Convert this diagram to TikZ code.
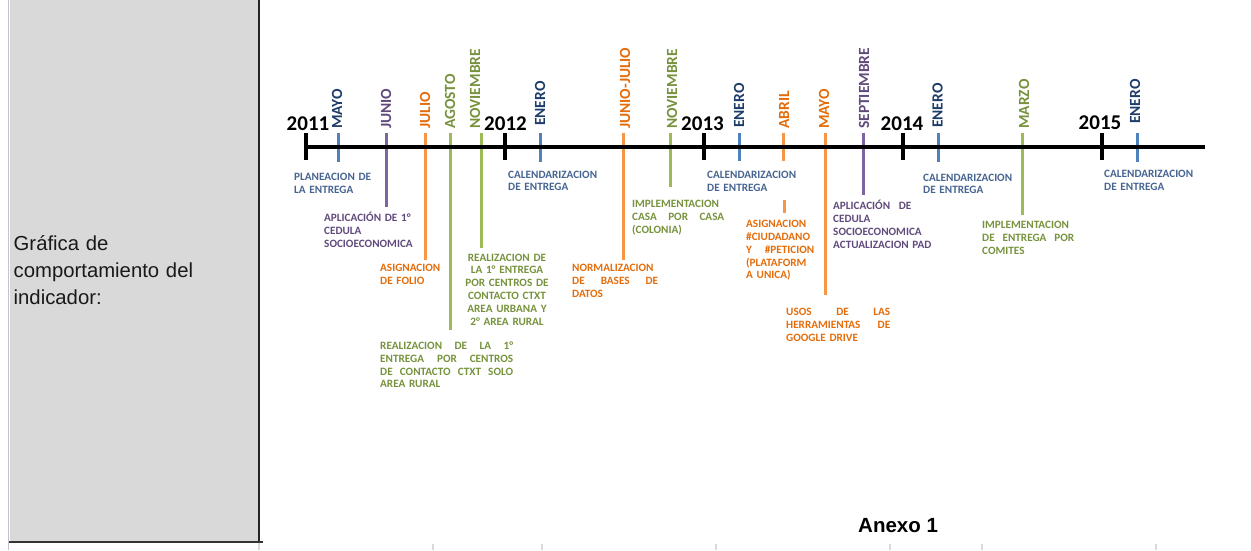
\documentclass[tikz,border=0pt]{standalone}
\usepackage{fontspec}
\setmainfont{Carlito}
\newfontfamily\arialfont{Liberation Sans}
\usepackage{tikz}
\usepackage{xcolor}
\usetikzlibrary{positioning}
\definecolor{tlblue}{RGB}{79,129,189}
\definecolor{tlpurple}{RGB}{128,100,162}
\definecolor{tlorange}{RGB}{247,150,70}
\definecolor{tlgreen}{RGB}{155,187,89}
\definecolor{txnavy}{RGB}{30,60,105}
\definecolor{txblue}{RGB}{70,100,145}
\definecolor{txpurple}{RGB}{96,74,123}
\definecolor{txorange}{RGB}{228,108,10}
\definecolor{txgreen}{RGB}{118,146,60}
\definecolor{panelgray}{RGB}{217,217,217}
\definecolor{edgegray}{RGB}{195,195,205}

\begin{document}
\begin{tikzpicture}[
  x=1pt, y=-1pt,
  year/.style={font=\fontsize{21}{21}\selectfont\bfseries, inner sep=0pt, anchor=base},
  month/.style={font=\fontsize{15.5}{15.5}\selectfont\bfseries, inner sep=0pt, rotate=90, anchor=west},
  desc/.style={font=\fontsize{11.2}{12.8}\selectfont\bfseries, inner sep=0pt, align=left, text width=120pt, anchor=base west},
  mline/.style={line width=3pt},
  yline/.style={line width=4pt}
]
\useasboundingbox (0,0) rectangle (1251,550);
\fill[panelgray] (9.5,0) rectangle (259,541.5);
\draw[edgegray, line width=1.5pt] (8.5,0) -- (8.5,550);
\draw[black!85, line width=2pt] (259,0) -- (259,542.5);
\draw[black!80, line width=2pt] (9,541.5) -- (263,541.5);
\draw[black!15, line width=1.2pt] (259,543) -- (259,550);
\foreach \gx in {433,542,716,890,982,1156}
  \draw[black!15, line width=1.2pt] (\gx,544) -- (\gx,550);
\node[anchor=base west, align=left, text width=240pt, inner sep=0pt, text=black!90, font=\arialfont\fontsize{20.3}{27}\selectfont] (ttl) at (13.5,250) {Gráfica de\\comportamiento del\\indicador:};

\coordinate (a1) at (338,133); \coordinate (b1) at (338,162);
\coordinate (a2) at (386,133); \coordinate (b2) at (386,207);
\coordinate (a3) at (425,133); \coordinate (b3) at (425,260);
\coordinate (a4) at (450,133); \coordinate (b4) at (450,330);
\coordinate (a5) at (481,133); \coordinate (b5) at (481,248);
\coordinate (a6) at (540,133); \coordinate (b6) at (540,162);
\coordinate (a7) at (623,133); \coordinate (b7) at (623,260);
\coordinate (a8) at (670,133); \coordinate (b8) at (670,187);
\coordinate (a9) at (739,133); \coordinate (b9) at (739,161);
\coordinate (a10) at (783,133); \coordinate (b10) at (783,161);
\coordinate (c10) at (784,200); \coordinate (d10) at (784,213);
\coordinate (a11) at (825,133); \coordinate (b11) at (825,295);
\coordinate (a12) at (863,133); \coordinate (b12) at (863,195);
\coordinate (a13) at (938,133); \coordinate (b13) at (938,162);
\coordinate (a14) at (1022,133); \coordinate (b14) at (1022,215);
\coordinate (a15) at (1137,133); \coordinate (b15) at (1137,162);
\draw[mline, tlblue] (a1) -- (b1);
\draw[mline, tlpurple] (a2) -- (b2);
\draw[mline, tlorange] (a3) -- (b3);
\draw[mline, tlgreen] (a4) -- (b4);
\draw[mline, tlgreen] (a5) -- (b5);
\draw[mline, tlblue] (a6) -- (b6);
\draw[mline, tlorange] (a7) -- (b7);
\draw[mline, tlgreen] (a8) -- (b8);
\draw[mline, tlblue] (a9) -- (b9);
\draw[mline, tlorange] (a10) -- (b10);
\draw[mline, tlorange] (c10) -- (d10);
\draw[mline, tlorange] (a11) -- (b11);
\draw[mline, tlpurple] (a12) -- (b12);
\draw[mline, tlblue] (a13) -- (b13);
\draw[mline, tlgreen] (a14) -- (b14);
\draw[mline, tlblue] (a15) -- (b15);

\coordinate (t0) at (305,147); \coordinate (t1) at (1205,147);
\draw[line width=3.5pt] (t0) -- (t1);
\coordinate (y1a) at (306,133); \coordinate (y1b) at (306,160);
\coordinate (y2a) at (505,133); \coordinate (y2b) at (505,160);
\coordinate (y3a) at (704,133); \coordinate (y3b) at (704,160);
\coordinate (y4a) at (903,133); \coordinate (y4b) at (903,160);
\coordinate (y5a) at (1102,133); \coordinate (y5b) at (1102,160);
\draw[yline] (y1a) -- (y1b);
\draw[yline] (y2a) -- (y2b);
\draw[yline] (y3a) -- (y3b);
\draw[yline] (y4a) -- (y4b);
\draw[yline] (y5a) -- (y5b);

\node[year] (y11) at (308,130) {2011};
\node[year] (y12) at (505.5,130) {2012};
\node[year] (y13) at (702.5,130) {2013};
\node[year] (y14) at (902,130) {2014};
\node[year] (y15) at (1100,129) {2015};

\node[month, text=txnavy] (m1) at (337,129) {MAYO};
\node[month, text=txpurple] (m2) at (386,129) {JUNIO};
\node[month, text=txorange] (m3) at (425,129) {JULIO};
\node[month, text=txgreen] (m4) at (450,129) {AGOSTO};
\node[month, text=txgreen] (m5) at (475,129) {NOVIEMBRE};
\node[month, text=txnavy] (m6) at (540,126) {ENERO};
\node[month, text=txorange] (m7) at (625,129) {JUNIO-JULIO};
\node[month, text=txgreen] (m8) at (672,129) {NOVIEMBRE};
\node[month, text=txnavy] (m9) at (739,128) {ENERO};
\node[month, text=txorange] (m10) at (784,129) {ABRIL};
\node[month, text=txorange] (m11) at (824,129) {MAYO};
\node[month, text=txpurple] (m12) at (864,129) {SEPTIEMBRE};
\node[month, text=txnavy] (m13) at (937.5,128) {ENERO};
\node[month, text=txgreen] (m14) at (1024,129) {MARZO};
\node[month, text=txnavy] (m15) at (1135,124) {ENERO};

\node[desc, text=txblue] (d1) at (294,180.5) {PLANEACION DE\\LA ENTREGA};
\node[desc, text=txpurple] (d2) at (324,221.5) {APLICACIÓN DE 1°\\CEDULA\\SOCIOECONOMICA};
\node[desc, text=txorange] (d3) at (380,271.5) {ASIGNACION\\DE FOLIO};
\node[desc, text=txgreen, align=center, text width=100pt, anchor=base] (d4) at (507,261) {REALIZACION DE\\LA 1° ENTREGA\\POR CENTROS DE\\CONTACTO CTXT\\AREA URBANA Y\\2° AREA RURAL};
\node[desc, text=txgreen, text width=133pt] (d5) at (380,349.5) {REALIZACION\hfill DE\hfill LA\hfill 1°\\ENTREGA\hfill POR\hfill CENTROS\\DE\hfill CONTACTO\hfill CTXT\hfill SOLO\\AREA RURAL};
\node[desc, text=txblue] (d6) at (508,178) {CALENDARIZACION\\DE ENTREGA};
\node[desc, text=txorange, text width=86pt] (d7) at (572,271.6) {NORMALIZACION\\DE\hfill BASES\hfill DE\\DATOS};
\node[desc, text=txgreen, text width=92pt] (d8) at (632,207.6) {IMPLEMENTACION\\CASA\hfill POR\hfill CASA\\(COLONIA)};
\node[desc, text=txblue] (d9) at (707,178.5) {CALENDARIZACION\\DE ENTREGA};
\node[desc, text=txorange, text width=68pt] (d10) at (746,227.6) {ASIGNACION\\\#CIUDADANO\\Y\hfill \#PETICION\\(PLATAFORM\\A UNICA)};
\node[desc, text=txorange, text width=104pt] (d11) at (786,315.6) {USOS\hfill DE\hfill LAS\\HERRAMIENTAS\hfill DE\\GOOGLE DRIVE};
\node[desc, text=txpurple] (d12) at (833,209.6) {APLICACIÓN\hspace{5pt} DE\\CEDULA\\SOCIOECONOMICA\\ACTUALIZACION PAD};
\node[desc, text=txblue] (d13) at (923,181) {CALENDARIZACION\\DE ENTREGA};
\node[desc, text=txgreen, text width=92pt] (d14) at (982,228.6) {IMPLEMENTACION\\DE\hfill ENTREGA\hfill POR\\COMITES};
\node[desc, text=txblue] (d15) at (1104,177.6) {CALENDARIZACION\\DE ENTREGA};

\node[anchor=base west, inner sep=0pt, font=\arialfont\bfseries\fontsize{20.5}{20.5}\selectfont] (anx) at (858,532) {Anexo 1};
\end{tikzpicture}
\end{document}
